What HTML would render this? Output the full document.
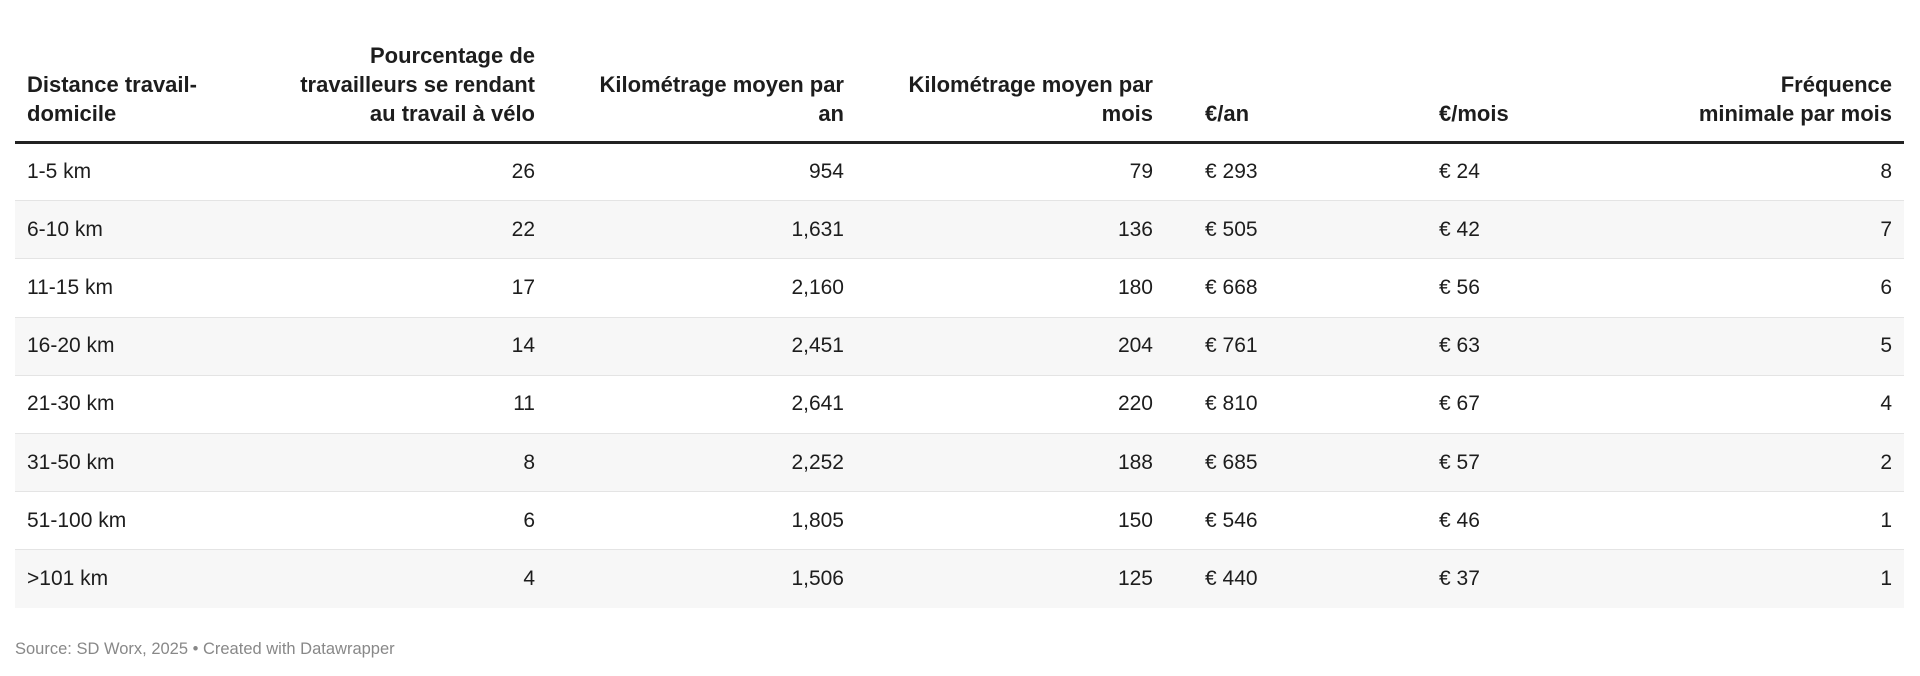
<!DOCTYPE html>
<html><head><meta charset="utf-8"><style>
html,body{margin:0;padding:0;background:#fff;width:1920px;height:676px;overflow:hidden;font-family:"Liberation Sans",Arial,sans-serif;color:#1d1d1d}
table{position:absolute;left:15px;top:41px;border-collapse:collapse;table-layout:fixed;width:1889px}
th{font-weight:bold;font-size:22px;line-height:29px;vertical-align:bottom;padding:0 12px 13px 12px;border-bottom:3px solid #222}
td{font-size:21px;height:58.2px;padding:0 12px;border-bottom:1px solid #e4e4e4;box-sizing:border-box}
tr:nth-child(even) td{background:#f7f7f7}
tr:last-child td{border-bottom:none}
.r{text-align:right}.l{text-align:left}
.p5{padding-left:40px}
.src{position:absolute;left:15px;top:640px;font-size:16.5px;color:#888}
</style></head><body>
<table>
<colgroup><col style="width:265px"><col style="width:267px"><col style="width:309px"><col style="width:309px"><col style="width:262px"><col style="width:233px"><col style="width:244px"></colgroup>
<thead><tr>
<th class="l">Distance travail-<br>domicile</th>
<th class="r">Pourcentage de<br>travailleurs se rendant<br>au travail à vélo</th>
<th class="r">Kilométrage moyen par<br>an</th>
<th class="r">Kilométrage moyen par<br>mois</th>
<th class="l p5">€/an</th>
<th class="l">€/mois</th>
<th class="r">Fréquence<br>minimale par mois</th>
</tr></thead>
<tbody>
<tr><td>1-5 km</td><td class="r">26</td><td class="r">954</td><td class="r">79</td><td class="p5">€ 293</td><td>€ 24</td><td class="r">8</td></tr>
<tr><td>6-10 km</td><td class="r">22</td><td class="r">1,631</td><td class="r">136</td><td class="p5">€ 505</td><td>€ 42</td><td class="r">7</td></tr>
<tr><td>11-15 km</td><td class="r">17</td><td class="r">2,160</td><td class="r">180</td><td class="p5">€ 668</td><td>€ 56</td><td class="r">6</td></tr>
<tr><td>16-20 km</td><td class="r">14</td><td class="r">2,451</td><td class="r">204</td><td class="p5">€ 761</td><td>€ 63</td><td class="r">5</td></tr>
<tr><td>21-30 km</td><td class="r">11</td><td class="r">2,641</td><td class="r">220</td><td class="p5">€ 810</td><td>€ 67</td><td class="r">4</td></tr>
<tr><td>31-50 km</td><td class="r">8</td><td class="r">2,252</td><td class="r">188</td><td class="p5">€ 685</td><td>€ 57</td><td class="r">2</td></tr>
<tr><td>51-100 km</td><td class="r">6</td><td class="r">1,805</td><td class="r">150</td><td class="p5">€ 546</td><td>€ 46</td><td class="r">1</td></tr>
<tr><td>&gt;101 km</td><td class="r">4</td><td class="r">1,506</td><td class="r">125</td><td class="p5">€ 440</td><td>€ 37</td><td class="r">1</td></tr>
</tbody></table>
<div class="src">Source: SD Worx, 2025 • Created with Datawrapper</div>
</body></html>
